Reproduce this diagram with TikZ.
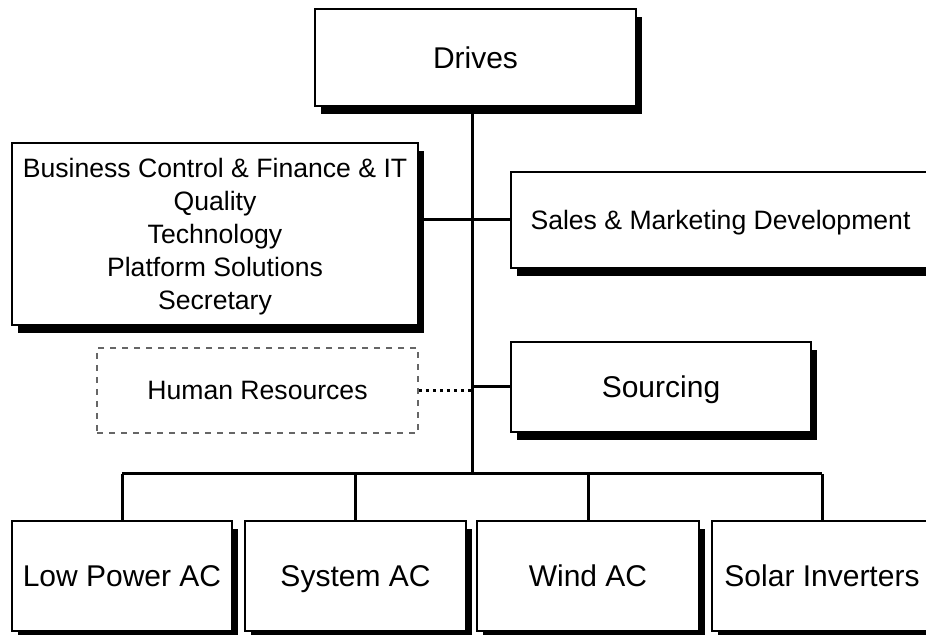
\documentclass[tikz,border=0pt]{standalone}
\usepackage{fontspec}
\setmainfont{Liberation Sans}
\usepackage{tikz}
\usetikzlibrary{shapes,positioning,calc,shadows}

\begin{document}
\begin{tikzpicture}[
    x=0.5pt, y=-0.5pt,
    unit/.style={rectangle, draw, line width=1pt, fill=white, align=center,
        font=\fontsize{15}{18}\selectfont, text height=10.7pt, text depth=0pt,
        drop shadow={shadow xshift=3.2pt, shadow yshift=-3.8pt, fill=black, opacity=1}},
    staff/.style={unit, font=\fontsize{13.3}{16.5}\selectfont, text height=9.5pt},
    stack/.style={rectangle, draw, line width=1pt, fill=white, align=center,
        font=\fontsize{13.3}{16.5}\selectfont, text depth=0pt,
        drop shadow={shadow xshift=3.2pt, shadow yshift=-3.8pt, fill=black, opacity=1}},
    extern/.style={rectangle, draw=black!60, dashed, line width=0.8pt, align=center,
        font=\fontsize{13.3}{16.5}\selectfont},
    link/.style={line width=1.5pt},
    dotlink/.style={line width=1.5pt, dotted}
]
    \useasboundingbox (0,0) rectangle (926,635);

    % Top of the organisation
    \node[unit, minimum width=160.5pt, minimum height=48.5pt] (drives) at (475.5,57.5) {Drives};

    % Staff functions
    \node[stack, minimum width=203pt, minimum height=91pt] (staff) at (215,234) {
        Business Control \& Finance \& IT\\
        Quality\\
        Technology\\
        Platform Solutions\\
        Secretary
    };
    \node[staff, minimum width=209.5pt, minimum height=48pt] (sales) at (720.5,220) {Sales \& Marketing Development};
    \node[unit, minimum width=150pt, minimum height=45pt] (sourcing) at (661,387) {Sourcing};
    \node[extern, minimum width=160.5pt, minimum height=42.5pt] (hr) at (257.5,390.5) {Human Resources};

    % Business units
    \node[unit, minimum width=110pt, minimum height=55pt] (lowpower) at (122,576) {Low Power AC};
    \node[unit, minimum width=110.5pt, minimum height=55pt] (system) at (355.5,576) {System AC};
    \node[unit, minimum width=111pt, minimum height=55pt] (wind) at (588,576) {Wind AC};
    \node[unit, minimum width=110pt, minimum height=55pt] (solar) at (822,576) {Solar Inverters};

    % Lines
    \coordinate (bus) at (472,474);
    \draw[link] (drives.south -| bus) -- (bus);
    \draw[link] (staff.east |- sales.west) -- (sales.west);
    \draw[link] (sourcing.west -| bus) -- (sourcing.west);
    \draw[dotlink] (hr.east) -- (hr.east -| bus);
    \draw[link] (lowpower.north |- bus) -- (solar.north |- bus);
    \foreach \u in {lowpower,system,wind,solar}
        \draw[link] (\u.north |- bus) -- (\u.north);
\end{tikzpicture}
\end{document}
